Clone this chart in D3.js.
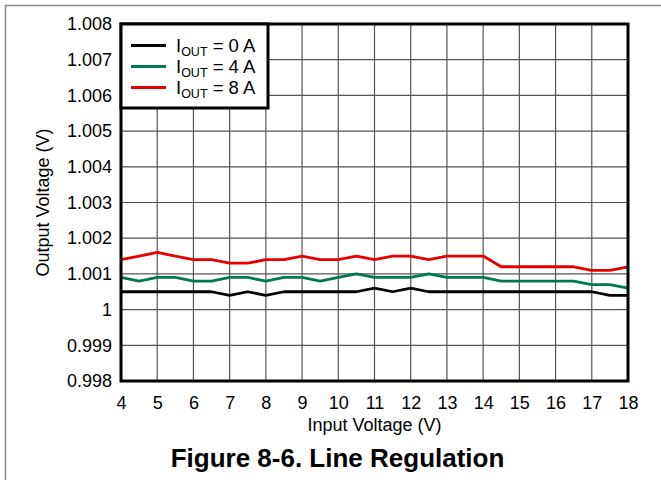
<!DOCTYPE html>
<html><head><meta charset="utf-8">
<script src="https://cdn.jsdelivr.net/npm/d3@7"></script>
<style>
body{margin:0;background:#fff;}
text{font-family:"Liberation Sans",Arial,sans-serif;}
</style></head>
<body><svg id="c" width="661" height="480"></svg>
<script>
const inputVoltage = [4,4.5,5,5.5,6,6.5,7,7.5,8,8.5,9,9.5,10,10.5,11,11.5,12,12.5,13,13.5,14,14.5,15,15.5,16,16.5,17,17.5,18];
const vout0A = [1.0005,1.0005,1.0005,1.0005,1.0005,1.0005,1.0004,1.0005,1.0004,1.0005,1.0005,1.0005,1.0005,1.0005,1.0006,1.0005,1.0006,1.0005,1.0005,1.0005,1.0005,1.0005,1.0005,1.0005,1.0005,1.0005,1.0005,1.0004,1.0004];
const vout4A = [1.0009,1.0008,1.0009,1.0009,1.0008,1.0008,1.0009,1.0009,1.0008,1.0009,1.0009,1.0008,1.0009,1.0010,1.0009,1.0009,1.0009,1.0010,1.0009,1.0009,1.0009,1.0008,1.0008,1.0008,1.0008,1.0008,1.0007,1.0007,1.0006];
const vout8A = [1.0014,1.0015,1.0016,1.0015,1.0014,1.0014,1.0013,1.0013,1.0014,1.0014,1.0015,1.0014,1.0014,1.0015,1.0014,1.0015,1.0015,1.0014,1.0015,1.0015,1.0015,1.0012,1.0012,1.0012,1.0012,1.0012,1.0011,1.0011,1.0012];
const seriesNames = ["0 A","4 A","8 A"];
const seriesColors = ["#000000","#007850","#e60000"];
const xTicks = [4,5,6,7,8,9,10,11,12,13,14,15,16,17,18];
const yTicks = [0.998,0.999,1.000,1.001,1.002,1.003,1.004,1.005,1.006,1.007,1.008];
const yTickLabels = ["0.998","0.999","1","1.001","1.002","1.003","1.004","1.005","1.006","1.007","1.008"];

const svg = d3.select("#c");
const L=121, R=628, T=24, B=381;
const x = d3.scaleLinear().domain([4,18]).range([L,R]);
const y = d3.scaleLinear().domain([0.998,1.008]).range([B,T]);

// outer page border lines
svg.append("line").attr("x1",5).attr("x2",661).attr("y1",5.5).attr("y2",5.5).attr("stroke","#888").attr("stroke-width",1.5);
svg.append("line").attr("x1",5.5).attr("x2",5.5).attr("y1",5).attr("y2",480).attr("stroke","#888").attr("stroke-width",1.5);

// grid
svg.append("g").selectAll("line").data(xTicks).join("line")
  .attr("x1",d=>x(d)).attr("x2",d=>x(d)).attr("y1",T).attr("y2",B)
  .attr("stroke","#555").attr("stroke-width",1.2);
svg.append("g").selectAll("line").data(yTicks).join("line")
  .attr("x1",L).attr("x2",R).attr("y1",d=>y(d)).attr("y2",d=>y(d))
  .attr("stroke","#555").attr("stroke-width",1.2);

// axes labels via d3 axes
const xAxis = d3.axisBottom(x).tickValues(xTicks).tickSize(0).tickPadding(15).tickFormat(d3.format("d"));
const gx = svg.append("g").attr("transform",`translate(0,${B})`).call(xAxis);
gx.select(".domain").remove();
gx.selectAll("text").attr("font-size",18).attr("font-family","Liberation Sans, Arial, sans-serif").attr("fill","#000");

const yAxis = d3.axisLeft(y).tickValues(yTicks).tickSize(0).tickPadding(9).tickFormat((d,i)=>yTickLabels[i]);
const gy = svg.append("g").attr("transform",`translate(${L},0)`).call(yAxis);
gy.select(".domain").remove();
gy.selectAll("text").attr("font-size",18).attr("font-family","Liberation Sans, Arial, sans-serif").attr("fill","#000");

// lines
const seriesData = [vout0A, vout4A, vout8A];
const line = d3.line().x((d,i)=>x(inputVoltage[i])).y(d=>y(d));
svg.append("g").selectAll("path").data(seriesData).join("path")
  .attr("d",d=>line(d)).attr("fill","none")
  .attr("stroke",(d,i)=>seriesColors[i]).attr("stroke-width",2.8).attr("stroke-linejoin","round");

// frame
svg.append("rect").attr("x",L).attr("y",T).attr("width",R-L).attr("height",B-T)
  .attr("fill","none").attr("stroke","#000").attr("stroke-width",3);

// legend
const lg = svg.append("g");
lg.append("rect").attr("x",L).attr("y",T).attr("width",147).attr("height",84)
  .attr("fill","#fff").attr("stroke","#000").attr("stroke-width",3);
seriesNames.forEach((n,i)=>{
  const yy = 45.5 + i*21;
  lg.append("line").attr("x1",131).attr("x2",166).attr("y1",yy).attr("y2",yy)
    .attr("stroke",seriesColors[i]).attr("stroke-width",2.8);
  const t = lg.append("text").attr("x",176).attr("y",yy+6).attr("font-size",18.5).attr("fill","#000");
  t.append("tspan").text("I");
  t.append("tspan").attr("font-size",12.5).attr("dy",4).text("OUT");
  t.append("tspan").attr("dy",-4).text(" = " + n);
});

// axis titles
svg.append("text").attr("x",(L+R)/2).attr("y",431).attr("text-anchor","middle")
  .attr("font-size",18).text("Input Voltage (V)");
svg.append("text").attr("transform",`translate(49,${(T+B)/2}) rotate(-90)`).attr("text-anchor","middle")
  .attr("font-size",18).text("Output Voltage (V)");

// caption
svg.append("text").attr("x",337.5).attr("y",467).attr("text-anchor","middle")
  .attr("font-size",26).attr("font-weight","bold").text("Figure 8-6. Line Regulation");
</script></body></html>
